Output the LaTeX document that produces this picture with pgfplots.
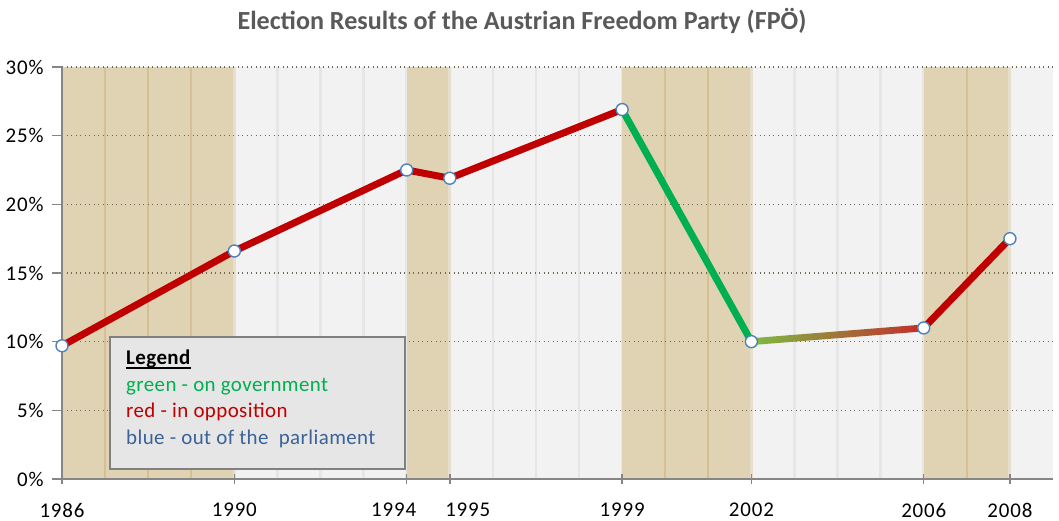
\documentclass[border=0pt]{standalone}
\usepackage{fontspec}
\setmainfont{Carlito}
\newfontfamily\tickfont[LetterSpace=4]{Carlito}
\newfontfamily\legfont[LetterSpace=2]{Carlito}
\usepackage{pgfplots}
\pgfplotsset{compat=1.18}
\definecolor{bggrey}{RGB}{242,242,242}
\definecolor{greyline}{RGB}{230,230,230}
\definecolor{tanband}{RGB}{224,211,180}
\definecolor{tanline}{RGB}{212,192,146}
\definecolor{tanstrip}{RGB}{230,223,206}
\definecolor{axisgrey}{RGB}{134,134,134}
\definecolor{gridc}{RGB}{110,104,84}
\definecolor{oppred}{RGB}{192,0,0}
\definecolor{govgreen}{RGB}{0,176,80}
\definecolor{gradgreen}{RGB}{125,187,66}
\definecolor{gradred}{RGB}{195,45,45}
\definecolor{markblue}{RGB}{79,129,189}
\definecolor{titlegrey}{RGB}{89,89,89}
\definecolor{legfill}{RGB}{230,230,230}
\definecolor{legborder}{RGB}{128,128,128}
\definecolor{legblue}{RGB}{58,99,152}
\begin{document}
\begin{tikzpicture}
\begin{axis}[name=ax, scale only axis, width=991bp, height=412bp,
  xmin=1986, xmax=2009, ymin=0, ymax=30,
  set layers,
  axis background/.style={fill=bggrey},
  axis x line*=bottom, axis y line*=left,
  axis line style={draw=axisgrey, line width=1.5bp},
  xtick={1986,1990,1994,1995,1999,2002,2006,2008},
  xticklabels={1986,1990,1994\hspace*{26bp},\hspace*{36bp}1995,1999,2002,2006,2008},
  ytick={0,5,10,15,20,25,30},
  yticklabel={\pgfmathprintnumber{\tick}\%},
  ymajorgrids,
  major grid style={draw=gridc, line width=1.3bp, dash pattern=on 1.3bp off 3.2bp},
  tick align=center, major tick length=10bp,
  tick style={draw=axisgrey, line width=1.5bp},
  ytick style={xshift=-5bp},
  ticklabel style={font=\tickfont\fontsize{21}{25}\selectfont, text=black},
  xticklabel style={yshift=-15.5bp},
  yticklabel style={xshift=-10bp},
  /pgf/number format/assume math mode=true,
  clip=false,
]
% background yearly lines
\addplot[ycomb, draw=greyline, line width=2.5bp, no marks, on layer=axis background]
  coordinates {(1987,30)(1988,30)(1989,30)(1990,30)(1991,30)(1992,30)(1993,30)(1994,30)(1995,30)(1996,30)(1997,30)(1998,30)(1999,30)(2000,30)(2001,30)(2002,30)(2003,30)(2004,30)(2005,30)(2006,30)(2007,30)(2008,30)};
% bands
\addplot[fill=tanband, draw=none, on layer=axis background] coordinates {(1986,0)(1986,30)(1990,30)(1990,0)} -- cycle;
\addplot[fill=tanband, draw=none, on layer=axis background] coordinates {(1994,0)(1994,30)(1995,30)(1995,0)} -- cycle;
\addplot[fill=tanband, draw=none, on layer=axis background] coordinates {(1999,0)(1999,30)(2002,30)(2002,0)} -- cycle;
\addplot[fill=tanband, draw=none, on layer=axis background] coordinates {(2006,0)(2006,30)(2008,30)(2008,0)} -- cycle;
\addplot[ycomb, draw=tanstrip, line width=3bp, no marks, on layer=axis background]
  coordinates {(1990,30)(1995,30)(2002,30)(2008,30)};
\addplot[ycomb, draw=tanline, line width=2bp, no marks, on layer=axis background]
  coordinates {(1987,30)(1988,30)(1989,30)(2000,30)(2001,30)(2007,30)};
% data
\addplot[draw=oppred, line width=7bp, line join=round, line cap=round, no marks]
  coordinates {(1986,9.7)(1990,16.6)(1994,22.5)(1995,21.9)(1999,26.9)};
\addplot[draw=govgreen, line width=7bp, line join=round, line cap=round, no marks]
  coordinates {(1999,26.9)(2002,10.0)};
\addplot[draw=none, left color=gradgreen, right color=gradred, no marks]
  coordinates {(2002,9.75)(2006,10.75)(2006,11.25)(2002,10.25)} -- cycle;
\addplot[draw=oppred, line width=7bp, line join=round, line cap=round, no marks]
  coordinates {(2006,11.0)(2008,17.5)};
\addplot[only marks, mark=*, mark size=6bp, mark options={fill=white, draw=markblue, line width=1.4bp}]
  coordinates {(1986,9.7)(1990,16.6)(1994,22.5)(1995,21.9)(1999,26.9)(2002,10.0)(2006,11.0)(2008,17.5)};
\end{axis}
\node[anchor=base, font=\bfseries\fontsize{26.2}{30}\selectfont, text=titlegrey]
  at ([shift={(-35.5bp,37bp)}]ax.north) {Election Results of the Austrian Freedom Party (FPÖ)};
\node[draw=legborder, line width=1.6bp, fill=legfill, anchor=north west, minimum width=295bp,
  minimum height=132bp, inner sep=0pt, outer sep=0pt] (leg) at ([shift={(48bp,-270bp)}]ax.north west) {};
\begin{scope}[every node/.style={anchor=base west, inner sep=0pt, font=\legfont\fontsize{21}{25}\selectfont}]
\node (lg) at ([shift={(16bp,-28bp)}]leg.north west) {\textbf{Legend}};
\node[text=govgreen] at ([shift={(16bp,-54.5bp)}]leg.north west) {green - on government};
\node[text=oppred] at ([shift={(16bp,-81bp)}]leg.north west) {red - in opposition};
\node[text=legblue] at ([shift={(16bp,-107.5bp)}]leg.north west) {blue - out of the\ \ parliament};
\end{scope}
\draw[line width=1.7bp] ([yshift=-3bp]lg.base west) -- ([yshift=-3bp]lg.base east);
\path ([shift={(-62bp,-40.5bp)}]ax.south west) rectangle ([shift={(6bp,67bp)}]ax.north east);
\end{tikzpicture}
\end{document}
